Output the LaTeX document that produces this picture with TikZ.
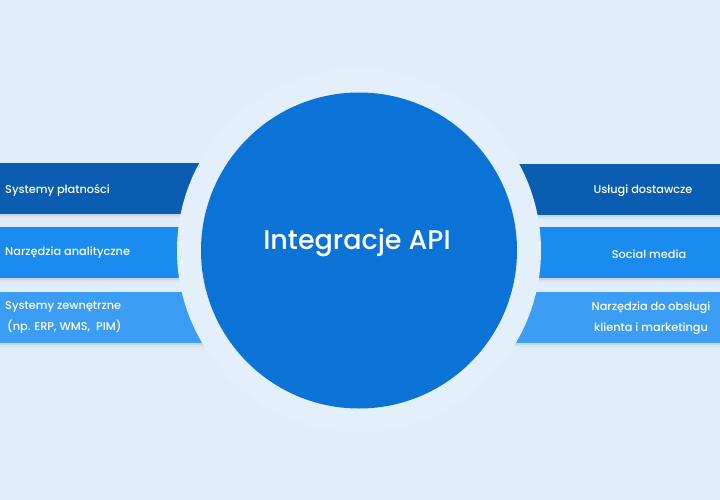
\documentclass[tikz,border=0pt]{standalone}
\usepackage{fontspec}
\setmainfont{Poppins Medium}
\usepackage{tikz}
\usetikzlibrary{shadows}
\definecolor{bg}{HTML}{E0EEFB}
\definecolor{halo}{HTML}{E3F0FC}
\definecolor{darkbar}{HTML}{0B5DB2}
\definecolor{midbar}{HTML}{1A8CF0}
\definecolor{lightbar}{HTML}{3C9DF4}
\definecolor{hub}{HTML}{0A73D5}
\tikzstyle{bar}=[rectangle,draw=none,minimum height=51pt,minimum width=260pt,inner sep=0pt,
  drop shadow={opacity=0.14,shadow xshift=0pt,shadow yshift=-2pt,shadow scale=1},
  drop shadow={opacity=0.08,shadow xshift=0pt,shadow yshift=-4pt,shadow scale=1}]
\tikzstyle{barlabel}=[text=white,font=\fontsize{11.3}{21}\selectfont,inner sep=0pt]
\tikzstyle{title}=[text=white,font=\fontsize{27}{32}\selectfont,inner sep=0pt]

\begin{document}
\begin{tikzpicture}[x=1pt,y=-1pt]
    \fill[bg] (0,0) rectangle (720,500);
    \useasboundingbox (0,0) rectangle (720,500);

    % bars on both sides
    \foreach \pos/ \col/ \name in {{(130,188.5)/darkbar/pay},{(130,252.5)/midbar/ana},{(130,317.5)/lightbar/ext}}
        \node[bar,fill=\col] (\name) at \pos {};

    \foreach \pos/ \col/ \name in {{(590,189)/darkbar/ship},{(590,252.5)/midbar/social},{(590,317.5)/lightbar/crm}}
        \node[bar,fill=\col] (\name) at \pos {};

    % halo and hub
    \node[circle,fill=halo,minimum size=364pt,inner sep=0pt] (halo) at (359,250.5) {};
    \node[circle,fill=hub,minimum size=316pt,inner sep=0pt] (hub) at (359,250.5) {};
    \node[title] (api) at ([xshift=-2pt,yshift=8pt]hub.center) {Integracje API};

    % labels
    \node[barlabel,anchor=west] (paytext) at (5,190) {Systemy płatności};
    \node[barlabel,anchor=west] (anatext) at (5,253) {Narzędzia analityczne};
    \node[barlabel,anchor=west,align=left] (exttext) at (5,318) {Systemy zewnętrzne\\\hspace{2pt}(np. ERP, WMS,~~PIM)};

    \node[barlabel] (shiptext) at (643,191) {Usługi dostawcze};
    \node[barlabel] (socialtext) at (649,254) {Social media};
    \node[barlabel,align=center] (crmtext) at (651,318.5) {Narzędzia do obsługi\\klienta i marketingu};

\end{tikzpicture}
\end{document}
